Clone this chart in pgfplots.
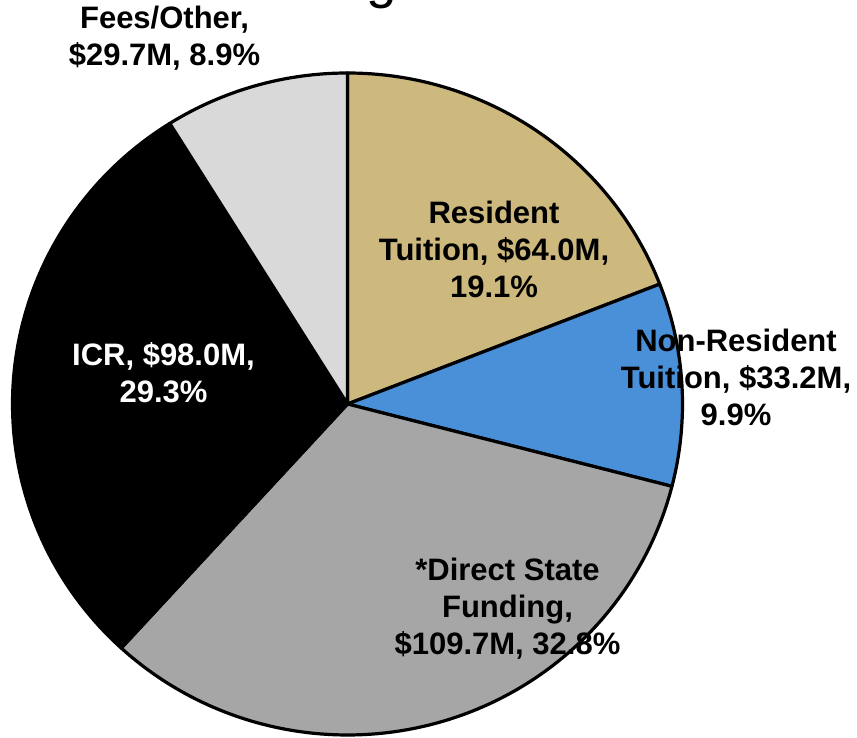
\documentclass[border=0pt]{standalone}
\usepackage{pgfplots}
\pgfplotsset{compat=1.18}
\usepackage{fontspec}
\setmainfont{Liberation Sans}
\definecolor{cres}{HTML}{CDB87D}
\definecolor{cnon}{HTML}{4A90D9}
\definecolor{cdir}{HTML}{A5A6A5}
\definecolor{cicr}{HTML}{000000}
\definecolor{cfee}{HTML}{D9D9D9}
% slice shares in percent (clockwise from 12 o'clock)
\def\pRes{19.1}
\def\pNon{9.9}
\def\pDir{32.8}
\def\pICR{29.3}
\def\pFee{8.9}
\pgfmathsetmacro{\aA}{90}
\pgfmathsetmacro{\aB}{\aA-3.6*\pRes}
\pgfmathsetmacro{\aC}{\aB-3.6*\pNon}
\pgfmathsetmacro{\aD}{\aC-3.6*\pDir}
\pgfmathsetmacro{\aE}{\aD-3.6*\pICR}
\pgfmathsetmacro{\aF}{\aE-3.6*\pFee}
\def\cx{347.5}
\def\cy{-404}
\def\rx{335}
\def\ry{331}
\begin{document}
\begin{tikzpicture}
\begin{axis}[
  scale only axis, width=428.5pt, height=369pt,
  xmin=0, xmax=857, ymin=-738, ymax=0,
  hide axis, clip=false,
]
\coordinate (SW) at (axis cs:0,-738);
\coordinate (NE) at (axis cs:857,0);
\pgfplotsset{slice/.style={draw=black, line width=1.6pt, line join=round, samples=120, no markers}}
\addplot[slice, fill=cres, domain=\aB:\aA] ({\cx+\rx*cos(x)},{\cy+\ry*sin(x)}) -- (axis cs:\cx,\cy) -- cycle;
\addplot[slice, fill=cnon, domain=\aC:\aB] ({\cx+\rx*cos(x)},{\cy+\ry*sin(x)}) -- (axis cs:\cx,\cy) -- cycle;
\addplot[slice, fill=cdir, domain=\aD:\aC] ({\cx+\rx*cos(x)},{\cy+\ry*sin(x)}) -- (axis cs:\cx,\cy) -- cycle;
\addplot[slice, fill=cicr, domain=\aE:\aD] ({\cx+\rx*cos(x)},{\cy+\ry*sin(x)}) -- (axis cs:\cx,\cy) -- cycle;
\addplot[slice, fill=cfee, domain=\aF:\aE] ({\cx+\rx*cos(x)},{\cy+\ry*sin(x)}) -- (axis cs:\cx,\cy) -- cycle;
\tikzset{lab/.style={align=center, font=\bfseries\fontsize{15.5}{18.5}\selectfont, inner sep=0pt}}
\node[lab] at (axis cs:494,-249) {Resident\\Tuition, \$64.0M,\\19.1\%};
\node[lab] at (axis cs:736,-377) {Non-Resident\\Tuition, \$33.2M,\\9.9\%};
\node[lab] at (axis cs:507.5,-609) {*Direct State\\Funding,\\\$109.7M, 32.8\%};
\node[lab, text=white] at (axis cs:163.5,-373) {ICR, \$98.0M,\\29.3\%};
\node[lab] at (axis cs:164.5,-38) {Fees/Other,\\\$29.7M, 8.9\%};
\node[anchor=base east, inner sep=0pt, font=\fontsize{27.5}{30}\selectfont] at (axis cs:398,2.5) {Funding};
\end{axis}
\pgfresetboundingbox
\useasboundingbox (SW) rectangle (NE);
\end{tikzpicture}
\end{document}
